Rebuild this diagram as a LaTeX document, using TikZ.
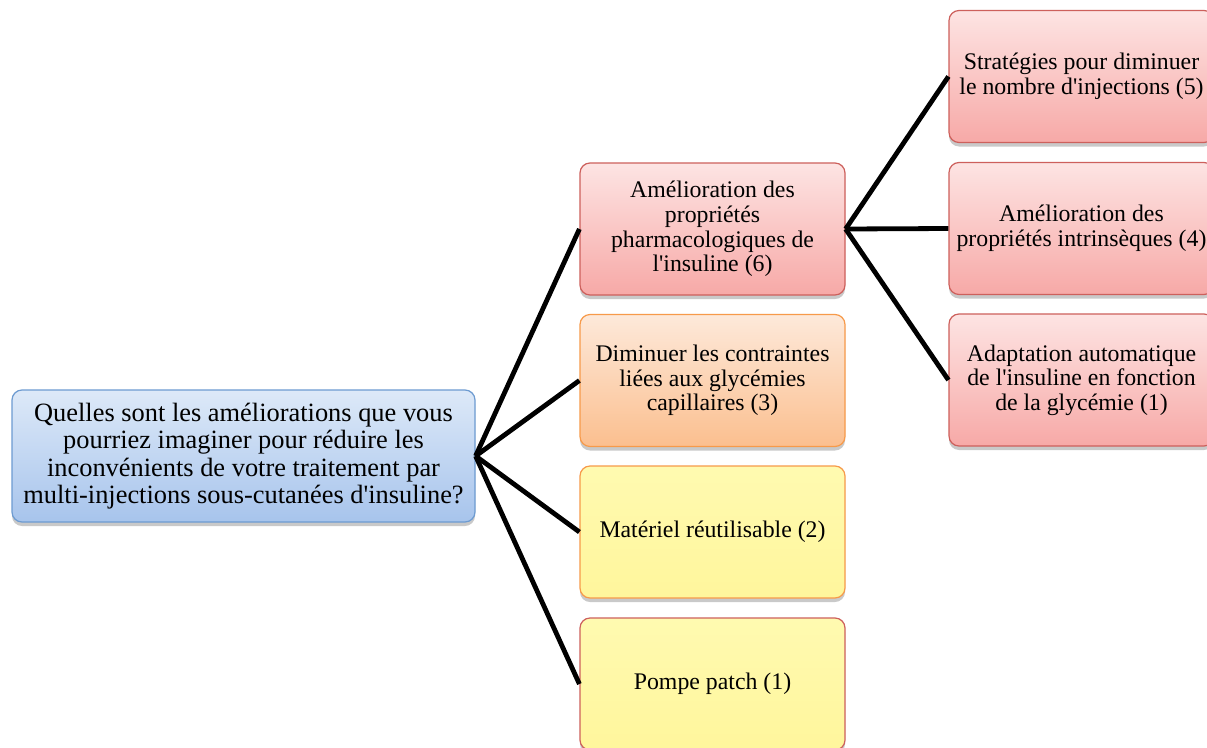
\documentclass[tikz,border=0pt]{standalone}
\usepackage{fontspec}
\setmainfont{Liberation Serif}[Ligatures=TeXOff]
\usetikzlibrary{shadows}
\definecolor{bluetop}{HTML}{DDE9F8}
\definecolor{bluebot}{HTML}{A7C4EC}
\definecolor{blueedge}{HTML}{6D9BD1}
\definecolor{redtop}{HTML}{FDE4E3}
\definecolor{redbot}{HTML}{F7A9A7}
\definecolor{rededge}{HTML}{CD605C}
\definecolor{ortop}{HTML}{FDE9DA}
\definecolor{orbot}{HTML}{FBBF8F}
\definecolor{oredge}{HTML}{F79A4A}
\definecolor{yeltop}{HTML}{FFFAB0}
\definecolor{yelbot}{HTML}{FFF69C}
\tikzset{
  box/.style={rectangle, rounded corners=10pt, minimum width=265pt, minimum height=132pt,
    align=center, line width=1.2pt, inner sep=2pt,
    font=\fontsize{23.8}{24.6}\selectfont,
    drop shadow={shadow xshift=0pt, shadow yshift=-4pt, opacity=0.35, fill=black!60}},
  rootbox/.style={box, minimum width=463pt, top color=bluetop, bottom color=bluebot, draw=blueedge,
    font=\fontsize{26.4}{27.5}\selectfont},
  redbox/.style={box, top color=redtop, bottom color=redbot, draw=rededge},
  orbox/.style={box, top color=ortop, bottom color=orbot, draw=oredge},
  yelbox/.style={box, top color=yeltop, bottom color=yelbot, draw=oredge},
  yelredbox/.style={box, top color=yeltop, bottom color=yelbot, draw=rededge},
  link/.style={line width=4.8pt, black}
}
\begin{document}
\begin{tikzpicture}[x=1pt,y=-1pt]
\clip (0,0) rectangle (1207,747);
\fill[white] (0,0) rectangle (1207,747);
\node[rootbox] (root) at (243.5,456) {Quelles sont les améliorations que vous\\pourriez imaginer pour réduire les\\inconvénients de votre traitement par\\multi-injections sous-cutanées d'insuline?};
\node[redbox] (m1) at (712.5,229) {Amélioration des\\propriétés\\pharmacologiques de\\l'insuline (6)};
\node[orbox] (m2) at (712.5,380.5) {Diminuer les contraintes\\liées aux glycémies\\capillaires (3)};
\node[yelbox] (m3) at (712.5,532) {Matériel réutilisable (2)};
\node[yelredbox] (m4) at (712.5,684) {Pompe patch (1)};
\node[redbox] (r1) at (1081.5,76.5) {Stratégies pour diminuer\\le nombre d'injections (5)};
\node[redbox] (r2) at (1081.5,228.5) {Amélioration des\\propriétés intrinsèques (4)};
\node[redbox] (r3) at (1081.5,380) {Adaptation automatique\\de l'insuline en fonction\\de la glycémie (1)};
\foreach \m in {m1,m2,m3,m4} \draw[link] (root.east) -- (\m.west);
\foreach \r in {r1,r2,r3} \draw[link] (m1.east) -- (\r.west);
\end{tikzpicture}
\end{document}
